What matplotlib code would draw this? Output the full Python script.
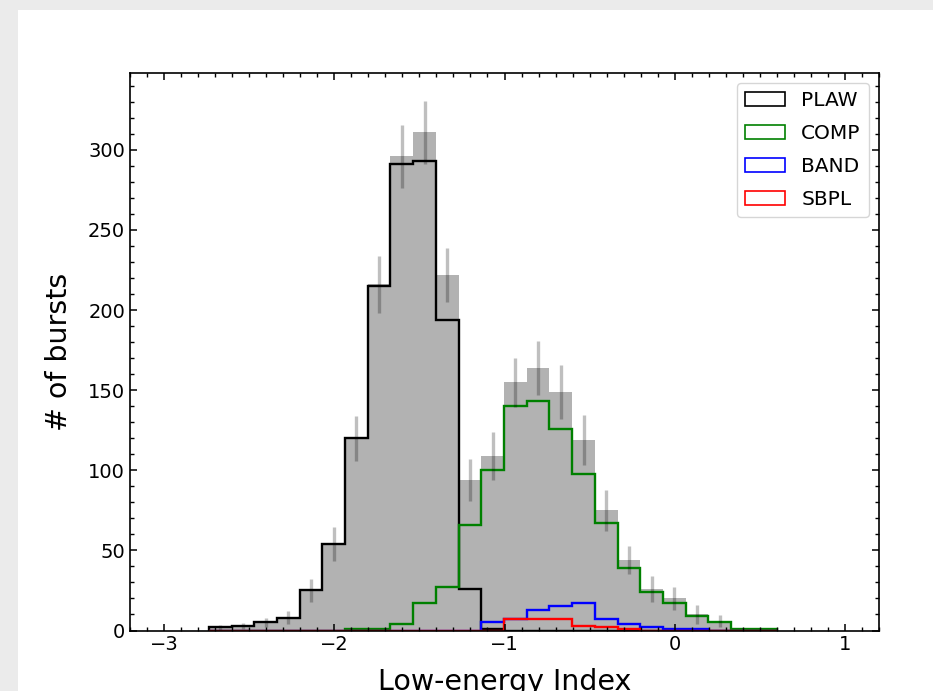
import numpy as np
import matplotlib
matplotlib.use('Agg')
import matplotlib.pyplot as plt
from matplotlib.patches import Rectangle, Patch

# Bin edges of the low-energy index histogram
edges = np.linspace(-2.737, 0.598, 26)

# Counts per bin
total = [2, 3, 5, 8, 25, 54, 120, 216, 296, 311, 222, 94, 109,
         155, 164, 149, 119, 75, 44, 26, 20, 10, 6, 1, 1]
total_err = [1.5, 1.9, 3.0, 4.2, 7.0, 10.8, 14.0, 17.8, 19.8, 19.8, 16.7, 13.3, 14.8,
             15.4, 16.7, 16.9, 15.8, 12.7, 8.9, 8.0, 7.1, 5.8, 3.6, 0, 0]
plaw = [2, 3, 5, 8, 25, 54, 120, 215, 291, 293, 194, 26, 1,
        0, 0, 0, 0, 0, 0, 0, 0, 0, 0, 0, 0]
comp = [0, 0, 0, 0, 0, 0, 1, 1, 4, 17, 27, 66, 100,
        140, 143, 126, 98, 67, 39, 24, 17, 9, 5, 1, 1]
band = [0, 0, 0, 0, 0, 0, 0, 0, 0, 0, 0, 0, 5,
        7, 13, 15, 17, 7, 4, 2, 1, 1, 0, 0, 0]
sbpl = [0, 0, 0, 0, 0, 0, 0, 0, 0, 0, 0, 0, 0,
        7, 7, 7, 3, 2, 1, 0, 0, 0, 0, 0, 0]

models = ['PLAW', 'COMP', 'BAND', 'SBPL']
colors = ['black', 'green', 'blue', 'red']

fig = plt.figure(figsize=(9.33, 6.91), dpi=100)
fig.patch.set_facecolor('#ebebeb')
# white page area (the reference is a crop with a grey frame top/left)
fig.patches.append(Rectangle((18 / 933, 0), 1, 1 - 10 / 691, transform=fig.transFigure,
                             facecolor='white', edgecolor='none', zorder=-5))

ax = fig.add_axes([130 / 933, 1 - 630.5 / 691, 749 / 933, 557.5 / 691])
ax.set_zorder(5)

centers = 0.5 * (edges[:-1] + edges[1:])
ax.stairs(total, edges, fill=True, color='k', alpha=0.3, linewidth=0)
ax.errorbar(centers, total, yerr=total_err, fmt='none', ecolor='k', alpha=0.25, elinewidth=2.4)

for name, counts, c in zip(models, [plaw, comp, band, sbpl], colors):
    ax.stairs(counts, edges, color=c, linewidth=1.7)

handles = [Patch(facecolor='none', edgecolor=c, linewidth=1.2, label=m) for m, c in zip(models, colors)]
ax.legend(handles=handles, loc='upper right', fontsize=14.5, labelspacing=0.7)

ax.set_xlim(-3.2, 1.2)
ax.set_ylim(0, 348)
ax.set_xticks([-3, -2, -1, 0, 1])
ax.set_yticks([0, 50, 100, 150, 200, 250, 300])
ax.minorticks_on()
ax.xaxis.set_minor_locator(matplotlib.ticker.MultipleLocator(0.1))
ax.yaxis.set_minor_locator(matplotlib.ticker.MultipleLocator(10))
ax.tick_params(which='both', direction='in', top=True, right=True, labelsize=14)
ax.tick_params(which='major', length=5, width=1.1)
ax.tick_params(which='minor', length=3, width=1)
for s in ax.spines.values():
    s.set_linewidth(1.2)

ax.set_xlabel('Low-energy Index', fontsize=20.5, labelpad=9.5)
ax.set_ylabel('# of bursts', fontsize=20.5, labelpad=11)

fig.savefig('out.png', dpi=100, facecolor=fig.get_facecolor())
